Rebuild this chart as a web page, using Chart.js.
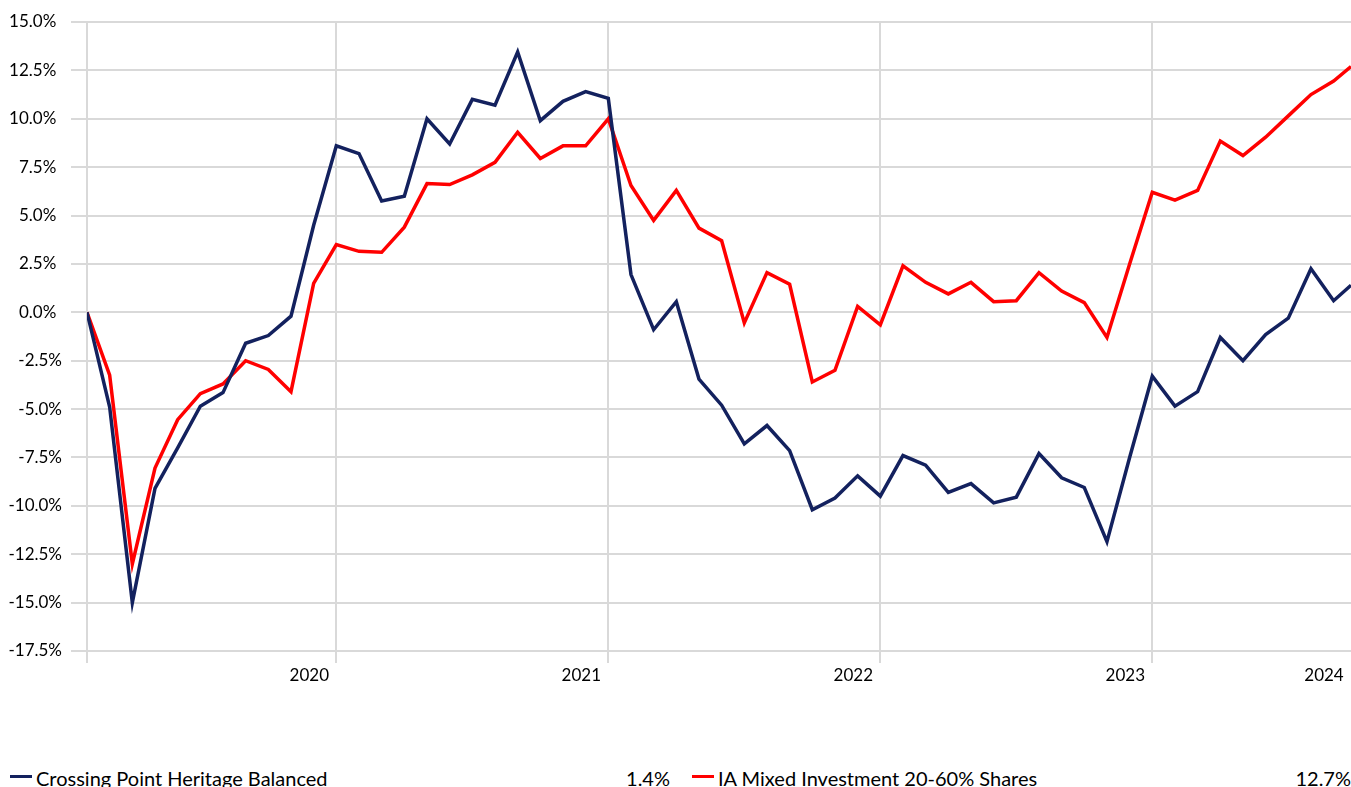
<!DOCTYPE html>
<html>
<head>
<meta charset="utf-8">
<script src="https://cdn.jsdelivr.net/npm/chart.js@4.4.1/dist/chart.umd.min.js"></script>
<style>
  body { margin: 0; background: #fff; font-family: Lato, sans-serif; color: #000; }
  .wrap { position: relative; width: 1351px; height: 787px; overflow: hidden; }
  .legend { position: absolute; top: 766px; height: 24px; line-height: 24px; font-size: 20px; white-space: nowrap; }
  .legend .mark { position: absolute; top: 9px; width: 22px; height: 3px; }
  .legend .name { position: absolute; }
  .legend .val { position: absolute; text-align: right; }
</style>
</head>
<body>
<div class="wrap">
  <canvas id="perf" width="1351" height="700"></canvas>
  <div class="legend" id="legend"></div>
</div>
<script>
// month end points, last one is part way through the month
const dates = [
  '2019-02-01','2019-03-01','2019-04-01','2019-05-01','2019-06-01','2019-07-01','2019-08-01','2019-09-01','2019-10-01','2019-11-01','2019-12-01',
  '2020-01-01','2020-02-01','2020-03-01','2020-04-01','2020-05-01','2020-06-01','2020-07-01','2020-08-01','2020-09-01','2020-10-01','2020-11-01','2020-12-01',
  '2021-01-01','2021-02-01','2021-03-01','2021-04-01','2021-05-01','2021-06-01','2021-07-01','2021-08-01','2021-09-01','2021-10-01','2021-11-01','2021-12-01',
  '2022-01-01','2022-02-01','2022-03-01','2022-04-01','2022-05-01','2022-06-01','2022-07-01','2022-08-01','2022-09-01','2022-10-01','2022-11-01','2022-12-01',
  '2023-01-01','2023-02-01','2023-03-01','2023-04-01','2023-05-01','2023-06-01','2023-07-01','2023-08-01','2023-09-01','2023-09-24'
];

const crossingPoint = [
  0, -4.9, -15.0, -9.1, -7.0, -4.85, -4.15, -1.6, -1.2, -0.2, 4.5,
  8.6, 8.2, 5.75, 6.0, 10.0, 8.7, 11.0, 10.7, 13.45, 9.9, 10.9, 11.4,
  11.05, 1.95, -0.9, 0.55, -3.45, -4.8, -6.8, -5.85, -7.15, -10.2, -9.6, -8.45,
  -9.5, -7.4, -7.9, -9.3, -8.85, -9.85, -9.55, -7.3, -8.55, -9.05, -11.85, -7.5,
  -3.3, -4.85, -4.1, -1.3, -2.5, -1.15, -0.3, 2.25, 0.6, 1.4
];

const iaMixed = [
  0, -3.25, -13.0, -8.05, -5.55, -4.2, -3.7, -2.5, -2.95, -4.1, 1.5,
  3.5, 3.15, 3.1, 4.4, 6.65, 6.6, 7.1, 7.75, 9.3, 7.95, 8.6, 8.6,
  10.0, 6.55, 4.75, 6.3, 4.35, 3.7, -0.55, 2.05, 1.45, -3.6, -3.0, 0.3,
  -0.65, 2.4, 1.55, 0.95, 1.55, 0.55, 0.6, 2.05, 1.1, 0.5, -1.3, 2.5,
  6.2, 5.8, 6.3, 8.85, 8.1, 9.05, 10.15, 11.25, 11.95, 12.7
];

const yearTicks = ['2020-01-01', '2021-01-01', '2022-01-01', '2023-01-01'];
const yearLabels = ['2020', '2021', '2022', '2023', '2024'];

const seriesNames = ['Crossing Point Heritage Balanced', 'IA Mixed Investment 20-60% Shares'];
const seriesTotals = ['1.4%', '12.7%'];
const seriesColors = ['#13215e', '#ff0000'];

function toX(d) {
  var p = d.split('-').map(Number);
  return (p[0] - 2019) * 12 + (p[1] - 1) + (p[2] - 1) / 30;
}

const xs = dates.map(toX);
const xMin = xs[0], xMax = xs[xs.length - 1];
// first tick is the left edge, last label sits at the right edge
const tickValues = [xMin].concat(yearTicks.map(toX), [xMax]);
const tickText = [''].concat(yearLabels);

function pts(vals) {
  return vals.map((v, i) => ({x: xs[i], y: v}));
}

const font = {family: 'Lato', size: 17};

new Chart(document.getElementById('perf'), {
  type: 'line',
  data: {
    datasets: [{
      label: seriesNames[0],
      data: pts(crossingPoint),
      borderColor: seriesColors[0],
      backgroundColor: seriesColors[0],
      borderWidth: 3.5
    }, {
      label: seriesNames[1],
      data: pts(iaMixed),
      borderColor: seriesColors[1],
      backgroundColor: seriesColors[1],
      borderWidth: 3.5
    }]
  },
  options: {
    responsive: false,
    animation: false,
    devicePixelRatio: 1,
    layout: {padding: {top: 22, left: 0, right: 0, bottom: 0}},
    elements: {
      point: {radius: 0},
      line: {tension: 0, borderJoinStyle: 'miter'}
    },
    plugins: {
      legend: {display: false},
      tooltip: {enabled: false}
    },
    scales: {
      x: {
        type: 'linear',
        min: xMin,
        max: xMax,
        afterBuildTicks: axis => { axis.ticks = tickValues.map(v => ({value: v})); },
        afterFit: s => { s.height = 49; s.paddingLeft = 0; s.paddingRight = 0; },
        ticks: {
          autoSkip: false,
          maxRotation: 0,
          labelOffset: -27,
          padding: 2,
          color: '#000',
          font: font,
          callback: (v, i) => tickText[i]
        },
        grid: {
          color: c => (c.tick && c.tick.value === xMax) ? 'rgba(0,0,0,0)' : '#d9d9d9',
          lineWidth: 2,
          tickLength: 12
        },
        border: {display: false}
      },
      y: {
        min: -17.5,
        max: 15,
        afterFit: s => { s.width = 87; s.paddingTop = 0; s.paddingBottom = 0; },
        ticks: {
          stepSize: 2.5,
          padding: 9,
          color: '#000',
          font: font,
          // positives get a trailing gap like the _- excel format
          callback: v => v.toFixed(1) + '%' + (v >= 0 ? '\u2004' : '')
        },
        grid: {
          color: '#d9d9d9',
          lineWidth: 2,
          tickLength: 16
        },
        border: {display: false}
      }
    }
  }
});

// legend row underneath, name on the left, return on the right
var legend = document.getElementById('legend');
var spans = [[10, 670], [692, 1351]];
seriesNames.forEach((name, i) => {
  var left = spans[i][0], right = spans[i][1];
  legend.innerHTML +=
    '<div class="mark" style="left:' + left + 'px;background:' + seriesColors[i] + '"></div>' +
    '<div class="name" style="left:' + (left + 26) + 'px">' + name + '</div>' +
    '<div class="val" style="left:' + (right - 100) + 'px;width:100px">' + seriesTotals[i] + '</div>';
});
</script>
</body>
</html>
